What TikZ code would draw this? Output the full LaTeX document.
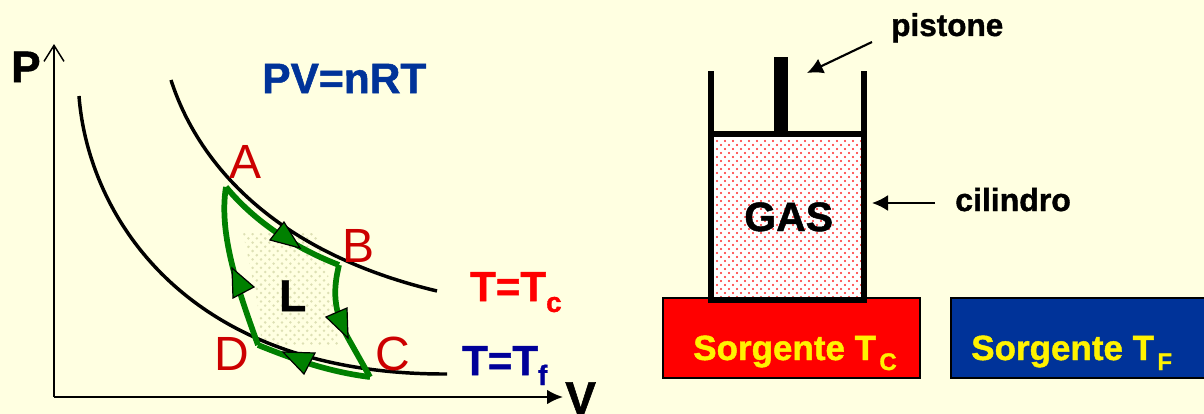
\documentclass[tikz,border=0pt]{standalone}
\usepackage{fontspec}
\setmainfont[BoldFeatures={FakeBold=1.2}]{Liberation Sans}
\usetikzlibrary{arrows.meta}
\definecolor{bgc}{HTML}{FFFFE1}
\definecolor{redt}{HTML}{CC0000}
\definecolor{bluet}{HTML}{003399}
\definecolor{bluef}{HTML}{000099}
\definecolor{greenc}{HTML}{008000}
\definecolor{dotl}{HTML}{DDE0B4}
\definecolor{dotr}{HTML}{FF2828}
\newcommand{\fs}[1]{\fontsize{\dimexpr#1pt*3/4\relax}{\dimexpr#1pt*3/4\relax}\selectfont}
\tikzset{
  x=0.75pt,y=-0.75pt,
  lbl/.style={inner sep=0pt,anchor=base west},
  isotherm/.style={line width=2.6pt,draw=black},
  cycleline/.style={line width=4.3pt,draw=greenc,line join=miter},
  tri/.style={fill=greenc,draw=black,line width=0.9pt,line join=miter},
  wall/.style={fill=black},
  pointer/.style={line width=1.6pt,-{Latex[length=12pt,width=12pt]}},
  source/.style={draw=black,line width=1.6pt}
}
\begin{document}
\begin{tikzpicture}
\useasboundingbox (0,0) rectangle (1204,414);
\fill[bgc] (0,0) rectangle (1204,414);
% dotted region L
\begin{scope}
\clip (243,233) -- (315,233) -- (326,262) -- (332,300) -- (339,346) -- (262,346) -- (257,300) -- cycle;
\foreach \r in {0,...,30}{
  \pgfmathsetmacro{\yy}{230+\r*4.2}
  \pgfmathsetmacro{\off}{mod(\r,2)*4.2}
  \foreach \c in {0,...,13}{
    \fill[dotl] (240+\c*8.4+\off,\yy) circle[radius=1.4];
  }
}
\end{scope}
% axes
\coordinate (origin) at (54,397);
\coordinate (ptop) at (54,44);
\coordinate (vend) at (563,397);
\draw[line width=1.2pt,-{Straight Barb[length=12pt,width=15pt,line width=1.1pt]}] (origin) -- (ptop);
\draw[line width=1.5pt,-{Latex[length=12pt,width=11pt]}] (origin) -- (vend);
% isotherms
\draw[isotherm] (171,80) .. controls (195,155) and (265,250) .. (437,291);
\draw[isotherm] (79,96) .. controls (88,215) and (185,375) .. (447,374);
% cycle
\coordinate (ptA) at (226,187);
\coordinate (ptB) at (339,265);
\coordinate (ptC) at (370,377);
\coordinate (ptD) at (258,345);
\draw[cycleline] (ptA) .. controls (255,222) and (295,248) .. (ptB);
\draw[cycleline] (ptB) .. controls (333,290) and (333,310) .. (348,338) -- (ptC);
\draw[cycleline] (ptC) .. controls (330,372) and (295,360) .. (ptD);
\draw[cycleline] (ptD) .. controls (240,295) and (218,235) .. (ptA);
\filldraw[tri] (284,222) -- (270,240) -- (300,248) -- cycle;
\filldraw[tri] (347,308) -- (326,317) -- (348,338) -- cycle;
\filldraw[tri] (283,352) -- (315,353) -- (304,374) -- cycle;
\filldraw[tri] (232,268) -- (233,298) -- (254,287) -- cycle;
% labels left
\node[lbl] (lP) at (11,82) {\fs{44}\bfseries P};
\node[lbl] (lV) at (565,414) {\fs{46}\bfseries V};
\node[lbl,text=bluet] (lPV) at (262,93) {\fs{42.5}\bfseries PV=nRT};
\node[lbl,text=redt] (lA) at (229,178) {\fs{48}A};
\node[lbl,text=redt] (lB) at (342,262) {\fs{48}B};
\node[lbl,text=redt] (lC) at (375,370) {\fs{48}C};
\node[lbl,text=redt] (lD) at (214,370) {\fs{48}D};
\node[lbl] (lL) at (279,311) {\fs{44}\bfseries L};
\node[lbl,text=red] (lTc) at (470,301) {\fs{42}\bfseries T=T\raisebox{-8.2pt}{\fs{28}c}};
\node[lbl,text=bluef] (lTf) at (462,375) {\fs{42}\bfseries T=T\raisebox{-7.5pt}{\fs{28}f}};
% sources
\node[source,fill=red,minimum width=0.75pt*257,minimum height=0.75pt*80,inner sep=0pt,anchor=north west] (srcC) at (662,297) {};
\node[source,fill=bluet,minimum width=0.75pt*260,minimum height=0.75pt*80,inner sep=0pt,anchor=north west] (srcF) at (950,297) {};
% gas
\fill[white] (714,137) rectangle (861,297);
\begin{scope}
\clip (714,137) rectangle (861,297);
\foreach \r in {0,...,40}{
  \pgfmathsetmacro{\yy}{141+\r*4}
  \pgfmathsetmacro{\off}{mod(\r,2)*4}
  \foreach \c in {0,...,18}{
    \fill[dotr] (717+\c*8+\off,\yy) circle[radius=1.2];
  }
}
\end{scope}
% cylinder
\fill[wall] (708,71) rectangle (714,303);
\fill[wall] (861,71) rectangle (867,303);
\fill[wall] (708,297) rectangle (867,303);
\fill[wall] (714,131) rectangle (861,137);
\fill[wall] (774,57) rectangle (788,135);
% right labels
\node[lbl] (lGas) at (744,231) {\fs{41}\bfseries GAS};
\node[lbl] (lPist) at (891,36) {\fs{31.5}\bfseries pistone};
\node[lbl] (lCil) at (955,211) {\fs{32}\bfseries cilindro};
\coordinate (pistonA) at (872,42);
\coordinate (pistonB) at (807,73);
\coordinate (cilA) at (935,203);
\coordinate (cilB) at (872,203);
\draw[pointer] (pistonA) -- (pistonB);
\draw[pointer] (cilA) -- (cilB);
\node[lbl,text=yellow] (lSC) at (693,360) {\fs{35}\bfseries Sorgente T\kern2.5pt\raisebox{-7.5pt}{\fs{24}C}};
\node[lbl,text=yellow] (lSF) at (971,360) {\fs{35}\bfseries Sorgente T\kern2.5pt\raisebox{-7.5pt}{\fs{24}F}};
\end{tikzpicture}
\end{document}
